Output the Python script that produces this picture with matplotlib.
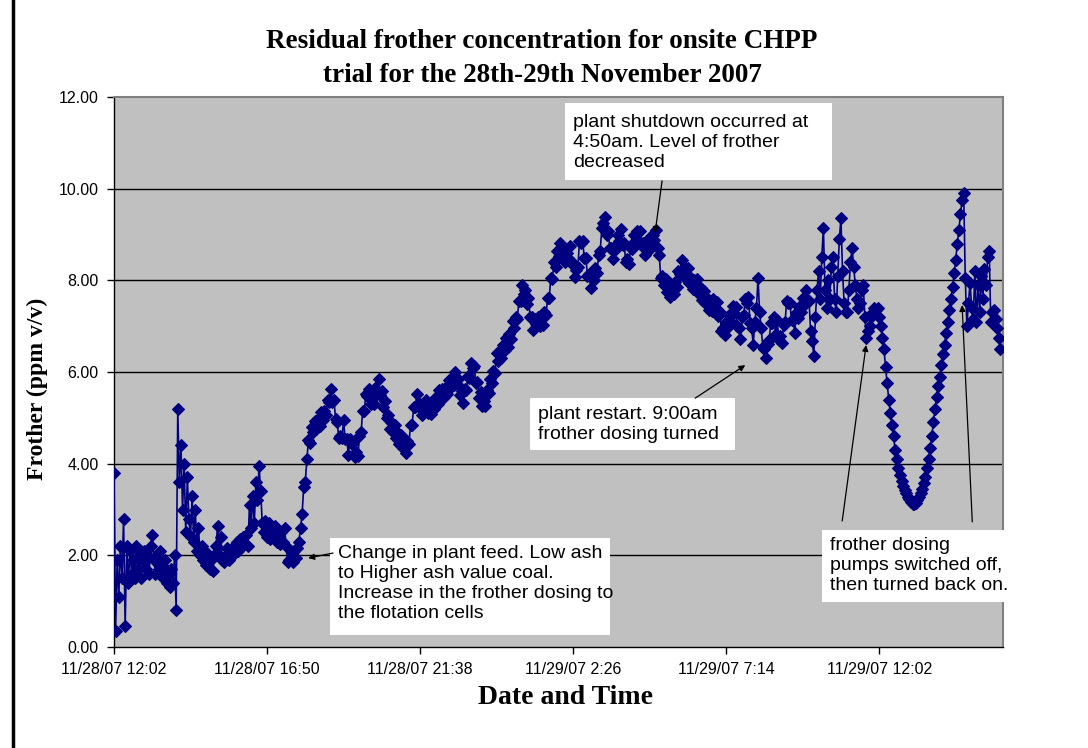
import matplotlib
matplotlib.use("Agg")
import matplotlib.pyplot as plt
import matplotlib.dates as mdates
import pandas as pd
from datetime import datetime, timedelta
from matplotlib.patches import Rectangle

# ---------------- data ----------------
start_time = "2007-11-28 12:02"
sample_minutes = 3
axis_end = "2007-11-29 15:55"

# residual frother (ppm v/v), one reading every 3 minutes, 10 readings per row
frother_ppm = [
    3.8, 0.35, 1.9, 1.1, 2.2, 1.5, 2.8, 0.45, 2.2, 1.4,
    2.1, 1.6, 1.9, 1.5, 2.2, 1.7, 2.0, 1.5, 1.9, 2.1,
    1.7, 2.0, 1.6, 2.2, 2.45, 1.9, 1.6, 2.0, 1.7, 2.1,
    1.8, 1.5, 1.9, 1.4, 1.6, 1.3, 1.7, 1.4, 2.0, 0.8,
    5.2, 3.6, 4.4, 3.0, 4.0, 2.5, 3.7, 2.8, 2.4, 3.3,
    2.3, 3.0, 2.1, 2.6, 2.0, 2.2, 1.9, 2.1, 1.8, 2.0,
    1.7, 1.9, 1.65, 2.0, 2.2, 2.65, 2.0, 2.4, 1.9, 1.85,
    2.0, 2.15, 1.9, 2.1, 2.0, 2.2, 2.05, 2.3, 2.1, 2.35,
    2.2, 2.4, 2.25, 2.45, 2.2, 3.1, 2.6, 3.3, 2.7, 3.6,
    3.2, 3.95, 3.4, 2.7, 2.5, 2.75, 2.4, 2.7, 2.35, 2.6,
    2.4, 2.65, 2.3, 2.55, 2.25, 2.5, 2.3, 2.6, 2.2, 1.85,
    1.9, 2.1, 1.85, 2.1, 1.95, 2.15, 2.3, 2.6, 2.9, 3.5,
    3.6, 4.1, 4.51, 4.46, 4.8, 4.69, 4.94, 4.75, 4.98, 4.83,
    5.12, 4.95, 5.16, 5.06, 5.4, 5.34, 5.64, 5.35, 5.38, 4.98,
    4.92, 4.55, 4.61, 4.56, 4.95, 4.54, 4.54, 4.2, 4.53, 4.43,
    4.47, 4.15, 4.26, 4.16, 4.6, 4.69, 5.14, 5.15, 5.53, 5.48,
    5.62, 5.3, 5.41, 5.31, 5.65, 5.59, 5.84, 5.5, 5.58, 5.23,
    5.37, 5.0, 5.06, 4.76, 4.9, 4.69, 4.84, 4.55, 4.68, 4.43,
    4.62, 4.35, 4.46, 4.24, 4.5, 4.44, 4.84, 4.85, 5.23, 5.23,
    5.52, 5.25, 5.31, 5.06, 5.25, 5.14, 5.39, 5.1, 5.23, 5.08,
    5.32, 5.2, 5.46, 5.31, 5.6, 5.39, 5.64, 5.45, 5.68, 5.53,
    5.82, 5.65, 5.86, 5.71, 6.0, 5.74, 5.84, 5.5, 5.58, 5.33,
    5.62, 5.6, 5.91, 5.86, 6.2, 6.09, 6.14, 5.75, 5.78, 5.43,
    5.57, 5.25, 5.36, 5.26, 5.6, 5.54, 5.84, 5.75, 6.03, 5.98,
    6.42, 6.25, 6.46, 6.31, 6.6, 6.49, 6.74, 6.55, 6.83, 6.73,
    7.12, 6.95, 7.21, 7.16, 7.55, 7.54, 7.89, 7.7, 7.78, 7.48,
    7.62, 7.2, 7.21, 6.91, 7.15, 7.04, 7.19, 7.0, 7.23, 7.03,
    7.32, 7.25, 7.61, 7.61, 8.05, 8.04, 8.39, 8.3, 8.63, 8.53,
    8.82, 8.55, 8.66, 8.41, 8.6, 8.49, 8.74, 8.35, 8.38, 8.08,
    8.22, 8.3, 8.86, 8.81, 8.85, 8.49, 8.49, 8.1, 8.13, 7.83,
    8.12, 8.0, 8.26, 8.16, 8.55, 8.64, 9.14, 9.25, 9.38, 8.98,
    9.07, 8.7, 8.71, 8.46, 8.75, 8.69, 8.99, 8.85, 9.13, 8.78,
    8.82, 8.4, 8.46, 8.36, 8.7, 8.69, 8.99, 8.85, 9.08, 8.88,
    9.07, 8.75, 8.81, 8.56, 8.75, 8.64, 8.94, 8.75, 8.98, 8.88,
    9.1, 8.7, 8.56, 8.06, 8.1, 7.89, 8.04, 7.75, 7.88, 7.63,
    7.87, 7.7, 7.96, 7.86, 8.2, 8.14, 8.44, 8.15, 8.28, 8.03,
    8.27, 7.95, 8.06, 7.81, 8.0, 7.79, 8.04, 7.7, 7.83, 7.58,
    7.77, 7.5, 7.61, 7.36, 7.55, 7.34, 7.59, 7.4, 7.53, 7.23,
    7.32, 6.9, 6.96, 6.81, 7.1, 6.99, 7.24, 7.1, 7.43, 7.28,
    7.42, 7.0, 6.96, 6.71, 7.2, 7.24, 7.59, 7.5, 7.63, 7.08,
    6.95, 6.6, 7.1, 7.4, 8.05, 7.3, 6.95, 6.55, 6.5, 6.3,
    6.62, 6.7, 7.06, 7.06, 7.2, 6.84, 7.14, 6.7, 6.78, 6.63,
    7.02, 7.1, 7.56, 7.51, 7.5, 7.14, 7.14, 6.85, 7.28, 7.18,
    7.42, 7.3, 7.61, 7.46, 7.8, 7.59, 7.54, 6.9, 6.68, 6.35,
    7.2, 7.8, 8.2, 7.6, 8.5, 9.15, 7.8, 7.4, 8.0, 7.6,
    8.3, 8.5, 7.6, 7.3, 8.1, 8.9, 9.35, 8.2, 7.5, 7.3,
    7.3, 7.8, 8.4, 8.7, 8.3, 7.9, 7.6, 7.4, 7.5, 7.8,
    7.9, 7.2, 6.75, 6.9, 7.0, 7.2, 7.3, 7.4, 7.35, 7.4,
    7.2, 7.0, 6.75, 6.5, 6.1, 5.75, 5.4, 5.1, 4.85, 4.6,
    4.3, 4.1, 3.9, 3.75, 3.62, 3.52, 3.43, 3.35, 3.28, 3.22,
    3.17, 3.13, 3.12, 3.15, 3.2, 3.27, 3.35, 3.45, 3.57, 3.7,
    3.9, 4.1, 4.35, 4.6, 4.9, 5.2, 5.45, 5.7, 5.9, 6.15,
    6.4, 6.6, 6.85, 7.1, 7.35, 7.6, 7.85, 8.15, 8.45, 8.8,
    9.1, 9.45, 9.75, 9.9, 8.05, 7.0, 7.5, 7.95, 7.4, 7.15,
    8.2, 7.1, 7.9, 7.3, 8.1, 7.6, 8.25, 7.9, 8.5, 8.65,
    7.1, 7.3, 7.35, 7.15, 6.95, 6.75, 6.5,
]

tick_labels = ["11/28/07 12:02", "11/28/07 16:50", "11/28/07 21:38",
               "11/29/07 2:26", "11/29/07 7:14", "11/29/07 12:02"]
y_ticks = [0, 2, 4, 6, 8, 10, 12]

title_lines = ["Residual frother concentration for onsite CHPP",
               "trial for the 28th-29th November 2007"]
x_title = "Date and Time"
y_title = "Frother (ppm v/v)"

# annotation texts: (text, box [h0, h1, v_bottom, v_top], text anchor (h, v)); h = hours after start
notes = [
    ("plant shutdown occurred at\n4:50am. Level of frother\ndecreased",
     (14.15, 22.53, 10.19, 11.87), (14.40, 11.63)),
    ("plant restart. 9:00am\nfrother dosing turned",
     (13.05, 19.48, 4.30, 5.43), (13.30, 5.26)),
    ("Change in plant feed. Low ash\nto Higher ash value coal.\nIncrease in the frother dosing to\nthe flotation cells",
     (6.78, 15.56, 0.26, 2.38), (7.03, 2.22)),
    ("frother dosing\npumps switched off,\nthen turned back on.",
     (22.21, 27.95, 0.98, 2.55), (22.46, 2.40)),
]
# arrows: (from h, from v) -> (to h, to v)
arrows = [
    ((17.19, 10.17), (16.97, 9.03)),
    ((18.23, 5.43), (19.80, 6.15)),
    ((6.87, 2.05), (6.09, 1.94)),
    ((22.84, 2.75), (23.59, 6.59)),
    ((26.92, 2.73), (26.60, 7.46)),
]

# ---------------- plot ----------------
t0 = datetime.strptime(start_time, "%Y-%m-%d %H:%M")
times = pd.date_range(start_time, periods=len(frother_ppm), freq=f"{sample_minutes}min")


def hx(h):
    return mdates.date2num(t0 + timedelta(hours=h))


fig = plt.figure(figsize=(10.88, 7.48), dpi=100)
fig.patch.set_facecolor("white")
ax = fig.add_axes([114 / 1088, 1 - 647 / 748, (1003 - 114) / 1088, (647 - 97) / 748])
ax.set_facecolor("#C0C0C0")

# page border
fig.patches.append(Rectangle((13 / 1088, -0.2), 1.3, 1.2 + (1 - 7 / 748),
                             transform=fig.transFigure, fill=False,
                             edgecolor="black", linewidth=2.5, zorder=0))

for y in y_ticks[1:-1]:
    ax.axhline(y, color="black", linewidth=1.0, zorder=1)

ax.plot(times, frother_ppm, color="#000080", linewidth=1.2,
        marker="D", markersize=5.8, markerfacecolor="#000080",
        markeredgecolor="#000080", markeredgewidth=0.8, zorder=3)

ax.set_ylim(0, 12)
ax.set_yticks(y_ticks)
ax.set_yticklabels([f"{v:.2f}" for v in y_ticks])
ax.set_xlim(t0, datetime.strptime(axis_end, "%Y-%m-%d %H:%M"))
tick_pos = [datetime.strptime(s, "%m/%d/%y %H:%M") for s in tick_labels]
ax.set_xticks(tick_pos)
ax.set_xticklabels(tick_labels)

for lab in ax.get_xticklabels() + ax.get_yticklabels():
    lab.set_fontfamily("Liberation Sans")
    lab.set_fontsize(11.5)
    lab.set_color("#111111")
ax.tick_params(axis="x", direction="out", length=5, width=1, pad=6, colors="black")
ax.tick_params(axis="y", direction="out", length=5, width=1, pad=6, colors="black")

for s in ["left", "bottom"]:
    ax.spines[s].set_color("black")
    ax.spines[s].set_linewidth(1.0)
for s in ["top", "right"]:
    ax.spines[s].set_color("#808080")
    ax.spines[s].set_linewidth(1.5)

# titles
serif = "Liberation Serif"
fig.text(542 / 1088, 1 - 42 / 748, title_lines[0], ha="center", va="center",
         fontfamily=serif, fontweight="bold", fontsize=19.5)
fig.text(542 / 1088, 1 - 75 / 748, title_lines[1], ha="center", va="center",
         fontfamily=serif, fontweight="bold", fontsize=19.5)
fig.text(565 / 1088, 1 - 697 / 748, x_title, ha="center", va="center",
         fontfamily=serif, fontweight="bold", fontsize=20)
fig.text(37 / 1088, 1 - 389 / 748, y_title, ha="center", va="center",
         rotation=90, fontfamily=serif, fontweight="bold", fontsize=17)

# annotations
for text, (h0, h1, vb, vt), (th, tv) in notes:
    ax.add_patch(Rectangle((hx(h0), vb), hx(h1) - hx(h0), vt - vb,
                           facecolor="white", edgecolor="none", zorder=4,
                           clip_on=False))
    ax.text(hx(th), tv, text, ha="left", va="top", fontfamily="Liberation Sans",
            fontsize=14, color="black", linespacing=1.22, zorder=5, clip_on=False)

for (fh, fv), (th, tv) in arrows:
    ax.annotate("", xy=(hx(th), tv), xytext=(hx(fh), fv),
                arrowprops=dict(arrowstyle="-|>", color="black", lw=0.9,
                                mutation_scale=9, shrinkA=0, shrinkB=0),
                zorder=6, annotation_clip=False)

fig.savefig("out.png", dpi=100, facecolor="white")
